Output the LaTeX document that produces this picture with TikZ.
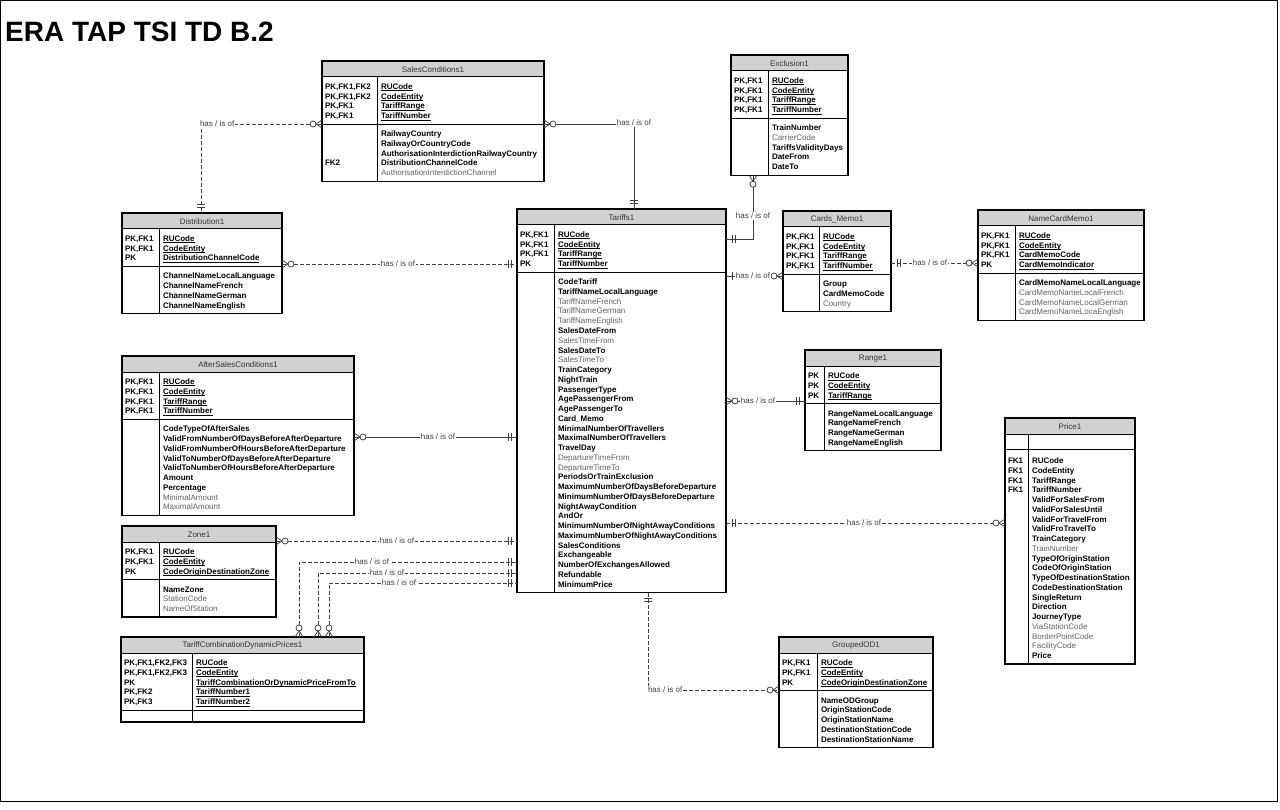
\documentclass[tikz,border=0pt]{standalone}
\usepackage{fontspec}
\setmainfont{Liberation Sans}
\newcounter{kr}\newcounter{ar}
\tikzset{
 ebox/.style={draw=black, line width=1.1pt, inner sep=0pt, outer sep=0pt, rectangle},
 hdrfill/.style={fill=black!18},
 fld/.style={inner sep=0pt, outer sep=0pt, font=\fontsize{8}{9.75}\selectfont\bfseries, text=black, anchor=base west},
 optfld/.style={fld, font=\fontsize{8}{9.75}\selectfont, text=black!62},
 ttl/.style={inner sep=0pt, font=\fontsize{8}{9.75}\selectfont, text=black!80},
 rel/.style={draw=black!75, line width=0.8pt},
 reldash/.style={rel, dash pattern=on 4pt off 2pt},
 lbl/.style={fill=white, inner sep=0.8pt, font=\fontsize{8}{9.75}\selectfont, text=black!75},
}
\newcommand\ul[1]{\setbox0\hbox{#1}\rlap{\rule[-1.6pt]{\wd0}{0.6pt}}\box0}
\newcommand\Ent[8]{%
 \def\EN{#1}%
 \pgfmathsetmacro\EX{#2}\pgfmathsetmacro\EY{#3}\pgfmathsetmacro\EW{#4}\pgfmathsetmacro\ED{#2+#5}%
 \pgfmathsetmacro\HB{#3+16}%
 \ifnum#6=0 \pgfmathsetmacro\SEP{\HB+15}\def\AOFF{11.5}\else\pgfmathsetmacro\SEP{\HB+18+(#6-1)*9.75}\def\AOFF{9.5}\fi
 \ifnum#7=0 \pgfmathsetmacro\BOT{\SEP+12}\else\pgfmathsetmacro\BOT{\SEP+\AOFF+(#7-1)*9.75+8.5}\fi
 \setcounter{kr}{0}\setcounter{ar}{0}%
 \fill[hdrfill] (\EX,\EY) rectangle ({\EX+\EW},\HB);
 \draw[line width=1pt] (\EX,\HB) -- ({\EX+\EW},\HB);
 \draw[line width=1pt] (\EX,\SEP) -- ({\EX+\EW},\SEP);
 \draw[line width=1pt] (\ED,\HB) -- (\ED,\BOT);
 \node[ebox, minimum width=\EW pt, minimum height={(\BOT-\EY)*1pt}, anchor=north west] (#1) at (\EX,\EY) {};
 \node[ttl] (#1-t) at ({\EX+\EW/2},{\EY+8.5}) {#8};
}
\newcommand\K[2]{\stepcounter{kr}%
 \pgfmathsetmacro\YY{\HB+9.5+(\arabic{kr}-1)*9.75+3}%
 \node[fld] (\EN-k\arabic{kr}) at ({\EX+3},\YY) {#1};
 \node[fld] (\EN-kn\arabic{kr}) at ({\ED+4},\YY) {\ul{#2}};}
\newcommand\A[2]{\stepcounter{ar}%
 \pgfmathsetmacro\YY{\SEP+\AOFF+(\arabic{ar}-1)*9.75+3}%
 \node[fld] (\EN-a\arabic{ar}) at ({\EX+3},\YY) {#1};
 \node[fld] (\EN-an\arabic{ar}) at ({\ED+4},\YY) {#2};}
\newcommand\G[2]{\stepcounter{ar}%
 \pgfmathsetmacro\YY{\SEP+\AOFF+(\arabic{ar}-1)*9.75+3}%
 \node[fld] (\EN-a\arabic{ar}) at ({\EX+3},\YY) {#1};
 \node[optfld] (\EN-an\arabic{ar}) at ({\ED+4},\YY) {#2};}
\newcommand\Many[2]{\begin{scope}[shift={(#1)},rotate=#2]\draw[rel,solid] (0,4)--(6,0)--(0,-4);\draw[rel,solid,fill=white] (9,0) circle[radius=3pt];\end{scope}}
\newcommand\One[2]{\begin{scope}[shift={(#1)},rotate=#2]\draw[rel,solid] (6,-4)--(6,4) (9,-4)--(9,4);\end{scope}}
\begin{document}
\begin{tikzpicture}[x=1pt,y=-1pt]
\useasboundingbox (0,0) rectangle (1280,810);
\draw[line width=1pt] (0.5,0.5) rectangle (1277,801);
\node[font=\fontsize{28}{30}\selectfont\bfseries, anchor=base west, inner sep=0pt] (title) at (5,42) {ERA TAP TSI TD B.2};

% SalesConditions1
\Ent{sc}{322}{61}{222}{55}{4}{5}{SalesConditions1}
\K{PK,FK1,FK2}{RUCode}\K{PK,FK1,FK2}{CodeEntity}\K{PK,FK1}{TariffRange}\K{PK,FK1}{TariffNumber}
\A{}{RailwayCountry}\A{}{RailwayOrCountryCode}\A{}{AuthorisationInterdictionRailwayCountry}\A{FK2}{DistributionChannelCode}\G{}{AuthorisationInterdictionChannel}

% Exclusion1
\Ent{ex}{731}{55}{117}{37}{4}{5}{Exclusion1}
\K{PK,FK1}{RUCode}\K{PK,FK1}{CodeEntity}\K{PK,FK1}{TariffRange}\K{PK,FK1}{TariffNumber}
\A{}{TrainNumber}\G{}{CarrierCode}\A{}{TariffsValidityDays}\A{}{DateFrom}\A{}{DateTo}

% Distribution1
\Ent{di}{122}{213}{160}{37}{3}{4}{Distribution1}
\K{PK,FK1}{RUCode}\K{PK,FK1}{CodeEntity}\K{PK}{DistributionChannelCode}
\A{}{ChannelNameLocalLanguage}\A{}{ChannelNameFrench}\A{}{ChannelNameGerman}\A{}{ChannelNameEnglish}

% Tariffs1
\Ent{ta}{517}{209}{209}{37}{4}{32}{Tariffs1}
\K{PK,FK1}{RUCode}\K{PK,FK1}{CodeEntity}\K{PK,FK1}{TariffRange}\K{PK}{TariffNumber}
\A{}{CodeTariff}\A{}{TariffNameLocalLanguage}\G{}{TariffNameFrench}\G{}{TariffNameGerman}\G{}{TariffNameEnglish}
\A{}{SalesDateFrom}\G{}{SalesTimeFrom}\A{}{SalesDateTo}\G{}{SalesTimeTo}\A{}{TrainCategory}\A{}{NightTrain}
\A{}{PassengerType}\A{}{AgePassengerFrom}\A{}{AgePassengerTo}\A{}{Card\_Memo}\A{}{MinimalNumberOfTravellers}
\A{}{MaximalNumberOfTravellers}\A{}{TravelDay}\G{}{DepartureTimeFrom}\G{}{DepartureTimeTo}\A{}{PeriodsOrTrainExclusion}
\A{}{MaximumNumberOfDaysBeforeDeparture}\A{}{MinimumNumberOfDaysBeforeDeparture}\A{}{NightAwayCondition}\A{}{AndOr}
\A{}{MinimumNumberOfNightAwayConditions}\A{}{MaximumNumberOfNightAwayConditions}\A{}{SalesConditions}\A{}{Exchangeable}
\A{}{NumberOfExchangesAllowed}\A{}{Refundable}\A{}{MinimumPrice}

% Cards_Memo1
\Ent{cm}{783}{211}{108}{36}{4}{3}{Cards\_Memo1}
\K{PK,FK1}{RUCode}\K{PK,FK1}{CodeEntity}\K{PK,FK1}{TariffRange}\K{PK,FK1}{TariffNumber}
\A{}{Group}\A{}{CardMemoCode}\G{}{Country}

% NameCardMemo1
\Ent{nc}{978}{210}{166}{37}{4}{4}{NameCardMemo1}
\K{PK,FK1}{RUCode}\K{PK,FK1}{CodeEntity}\K{PK,FK1}{CardMemoCode}\K{PK}{CardMemoIndicator}
\A{}{CardMemoNameLocalLanguage}\G{}{CardMemoNameLocalFrench}\G{}{CardMemoNameLocalGerman}\G{}{CardMemoNameLocaEnglish}

% AfterSalesConditions1
\Ent{as}{122}{356}{232}{37}{4}{9}{AfterSalesConditions1}
\K{PK,FK1}{RUCode}\K{PK,FK1}{CodeEntity}\K{PK,FK1}{TariffRange}\K{PK,FK1}{TariffNumber}
\A{}{CodeTypeOfAfterSales}\A{}{ValidFromNumberOfDaysBeforeAfterDeparture}\A{}{ValidFromNumberOfHoursBeforeAfterDeparture}
\A{}{ValidToNumberOfDaysBeforeAfterDeparture}\A{}{ValidToNumberOfHoursBeforeAfterDeparture}\A{}{Amount}\A{}{Percentage}
\G{}{MinimalAmount}\G{}{MaximalAmount}

% Range1
\Ent{ra}{805}{350}{136}{19}{3}{4}{Range1}
\K{PK}{RUCode}\K{PK}{CodeEntity}\K{PK}{TariffRange}
\A{}{RangeNameLocalLanguage}\A{}{RangeNameFrench}\A{}{RangeNameGerman}\A{}{RangeNameEnglish}

% Zone1
\Ent{zo}{122}{526}{154}{37}{3}{3}{Zone1}
\K{PK,FK1}{RUCode}\K{PK,FK1}{CodeEntity}\K{PK}{CodeOriginDestinationZone}
\A{}{NameZone}\G{}{StationCode}\G{}{NameOfStation}

% TariffCombinationDynamicPrices1
\Ent{tc}{121}{637}{243}{71}{5}{0}{TariffCombinationDynamicPrices1}
\K{PK,FK1,FK2,FK3}{RUCode}\K{PK,FK1,FK2,FK3}{CodeEntity}\K{PK}{TariffCombinationOrDynamicPriceFromTo}\K{PK,FK2}{TariffNumber1}\K{PK,FK3}{TariffNumber2}

% GroupedOD1
\Ent{go}{779}{637}{154}{38}{3}{5}{GroupedOD1}
\K{PK,FK1}{RUCode}\K{PK,FK1}{CodeEntity}\K{PK}{CodeOriginDestinationZone}
\A{}{NameODGroup}\A{}{OriginStationCode}\A{}{OriginStationName}\A{}{DestinationStationCode}\A{}{DestinationStationName}

% Price1
\Ent{pr}{1005}{418}{130}{23}{0}{21}{Price1}
\A{FK1}{RUCode}\A{FK1}{CodeEntity}\A{FK1}{TariffRange}\A{FK1}{TariffNumber}\A{}{ValidForSalesFrom}\A{}{ValidForSalesUntil}
\A{}{ValidForTravelFrom}\A{}{ValidFroTravelTo}\A{}{TrainCategory}\G{}{TrainNumber}\A{}{TypeOfOriginStation}
\A{}{CodeOfOriginStation}\A{}{TypeOfDestinationStation}\A{}{CodeDestinationStation}\A{}{SingleReturn}\A{}{Direction}
\A{}{JourneyType}\G{}{ViaStationCode}\G{}{BorderPointCode}\G{}{FacilityCode}\A{}{Price}

% ---------- relationships ----------
\draw[reldash] (sc.west |- 0,124) -| (di.north -| 201,0);
\draw[rel] (sc.east |- 0,124) -| (ta.north -| 634,0);
\draw[rel] (ex.south -| 753,0) |- (ta.east |- 0,239);
\draw[rel] (ta.east |- 0,276) -- (cm.west |- 0,276);
\draw[reldash] (cm.east |- 0,263) -- (nc.west |- 0,263);
\draw[reldash] (di.east |- 0,264) -- (ta.west |- 0,264);
\draw[rel] (as.east |- 0,437) -- (ta.west |- 0,437);
\draw[rel] (ta.east |- 0,401) -- (ra.west |- 0,401);
\draw[reldash] (ta.east |- 0,523) -- (pr.west |- 0,523);
\draw[reldash] (zo.east |- 0,541) -- (ta.west |- 0,541);
\draw[reldash] (tc.north -| 299,0) |- (ta.west |- 0,562);
\draw[reldash] (tc.north -| 318,0) |- (ta.west |- 0,573);
\draw[reldash] (tc.north -| 329,0) |- (ta.west |- 0,583);
\draw[reldash] (ta.south -| 648,0) |- (go.west |- 0,690);

% end marks
\Many{sc.west |- 0,124}{180}\One{di.north -| 201,0}{90}
\Many{sc.east |- 0,124}{0}\One{ta.north -| 634,0}{90}
\Many{ex.south -| 753,0}{270}\One{ta.east |- 0,239}{0}
\One{ta.east |- 0,276}{0}\Many{cm.west |- 0,276}{180}
\One{cm.east |- 0,263}{0}\Many{nc.west |- 0,263}{180}
\Many{di.east |- 0,264}{0}\One{ta.west |- 0,264}{180}
\Many{as.east |- 0,437}{0}\One{ta.west |- 0,437}{180}
\Many{ta.east |- 0,401}{0}\One{ra.west |- 0,401}{180}
\One{ta.east |- 0,523}{0}\Many{pr.west |- 0,523}{180}
\Many{zo.east |- 0,541}{0}\One{ta.west |- 0,541}{180}
\Many{tc.north -| 299,0}{90}\One{ta.west |- 0,562}{180}
\Many{tc.north -| 318,0}{90}\One{ta.west |- 0,573}{180}
\Many{tc.north -| 329,0}{90}\One{ta.west |- 0,583}{180}
\One{ta.south -| 648,0}{270}\Many{go.west |- 0,690}{180}

% labels
\node[lbl,anchor=west] (l1) at (199,124) {has / is of};
\node[lbl] (l2) at (634,123) {has / is of};
\node[lbl] (l3) at (753,216) {has / is of};
\node[lbl] (l4) at (753,276) {has / is of};
\node[lbl] (l5) at (930,263) {has / is of};
\node[lbl] (l6) at (398,264) {has / is of};
\node[lbl] (l7) at (438,437) {has / is of};
\node[lbl] (l8) at (758,401) {has / is of};
\node[lbl] (l9) at (864,523) {has / is of};
\node[lbl] (l10) at (397,541) {has / is of};
\node[lbl] (l11) at (372,562) {has / is of};
\node[lbl] (l12) at (387,573) {has / is of};
\node[lbl] (l13) at (399,583) {has / is of};
\node[lbl,anchor=west] (l14) at (647,690) {has / is of};
\end{tikzpicture}
\end{document}
